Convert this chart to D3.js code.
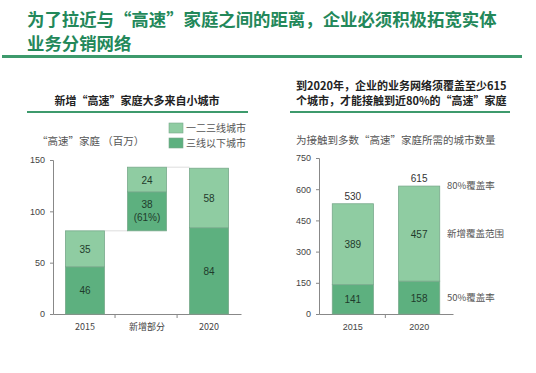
<!DOCTYPE html>
<html>
<head>
<meta charset="utf-8">
<script src="https://cdn.jsdelivr.net/npm/d3@7"></script>
<style>
  body { margin: 0; background: #fff; }
  svg { font-family: "Noto Sans CJK SC", "Noto Sans", sans-serif; }
</style>
</head>
<body>
<svg id="chart" width="536" height="373"></svg>
<script>
// data - left chart (households, millions)
var leftCats = ["2015", "新增部分", "2020"];
var leftLow = [46, 38, 84];      // 三线以下城市
var leftHigh = [35, 24, 58];     // 一二三线城市
var leftBase = [0, 81, 0];       // floating base for the increment bar
var leftTicks = [0, 50, 100, 150];

// data - right chart (number of cities)
var rightCats = ["2015", "2020"];
var rightLow = [141, 158];       // 50%覆盖率
var rightHigh = [389, 457];      // 新增覆盖范围
var rightTotal = [530, 615];
var rightTicks = [0, 150, 300, 450, 600, 750];

var light = "#8fcca2", dark = "#5db07f", edge = "#78a98b";
var green = "#23885a", lineGreen = "#3d9a6c";
var numFont = "Liberation Sans, Arial, sans-serif";

var svg = d3.select("#chart");

// title
svg.append("text").attr("x", 27).attr("y", 26)
  .attr("font-size", 17.4).attr("font-weight", "bold").attr("fill", green)
  .text("为了拉近与“高速”家庭之间的距离，企业必须积极拓宽实体");
svg.append("text").attr("x", 27).attr("y", 50)
  .attr("font-size", 17.4).attr("font-weight", "bold").attr("fill", green)
  .text("业务分销网络");
svg.append("rect").attr("x", 2).attr("y", 55).attr("width", 520).attr("height", 3).attr("fill", lineGreen);

// ---------- left panel ----------
svg.append("text").attr("x", 137).attr("y", 105).attr("text-anchor", "middle")
  .attr("font-size", 11).attr("font-weight", "bold").attr("fill", "#222")
  .text("新增“高速”家庭大多来自小城市");
svg.append("rect").attr("x", 27).attr("y", 111).attr("width", 221).attr("height", 2).attr("fill", lineGreen);

svg.append("text").attr("x", 37).attr("y", 145).attr("font-size", 10.5).attr("fill", "#555")
  .text("“高速”家庭 （百万）");

// legend
var legend = [["一二三线城市", light], ["三线以下城市", dark]];
legend.forEach(function(d, i){
  svg.append("rect").attr("x", 169).attr("y", 123 + i*15).attr("width", 14).attr("height", 10)
    .attr("fill", d[1]).attr("stroke", edge).attr("stroke-width", 0.6);
  svg.append("text").attr("x", 186).attr("y", 132 + i*15).attr("font-size", 10).attr("fill", "#555").text(d[0]);
});

var lx = d3.scaleBand().domain(leftCats).range([53, 241]).paddingInner(0.37).paddingOuter(0.2);
var ly = d3.scaleLinear().domain([0, 150]).range([314, 160]);

var lAxisY = svg.append("g").attr("transform", "translate(53,0)")
  .call(d3.axisLeft(ly).tickValues(leftTicks).tickSize(3).tickPadding(5));
var lAxisX = svg.append("g").attr("transform", "translate(0,314)")
  .call(d3.axisBottom(lx).tickSize(0).tickPadding(10));
// tick marks between bands
var lSep = [lx.step(), lx.step()*2].map(function(s){ return 53 + s; });
lSep.forEach(function(x){
  svg.append("line").attr("x1", x).attr("x2", x).attr("y1", 314).attr("y2", 318).attr("stroke", "#888");
});
[lAxisY, lAxisX].forEach(function(a){
  a.selectAll("path,line").attr("stroke", "#888");
  a.selectAll("text").attr("fill", "#444").attr("font-size", 9).attr("font-family", numFont);
});
lAxisX.selectAll("text").attr("font-family", "Noto Sans CJK SC, sans-serif");

// connectors
var t0 = leftLow[0] + leftHigh[0];
var t1 = leftBase[1] + leftLow[1] + leftHigh[1];
svg.append("line").attr("x1", lx(leftCats[0]) + lx.bandwidth()).attr("x2", lx(leftCats[1]))
  .attr("y1", ly(t0)).attr("y2", ly(t0)).attr("stroke", "#ddd");
svg.append("line").attr("x1", lx(leftCats[1]) + lx.bandwidth()).attr("x2", lx(leftCats[2]))
  .attr("y1", ly(t1)).attr("y2", ly(t1)).attr("stroke", "#ddd");

leftCats.forEach(function(c, i){
  var b = leftBase[i], lo = leftLow[i], hi = leftHigh[i];
  var x = lx(c), w = lx.bandwidth();
  svg.append("rect").attr("x", x).attr("y", ly(b + lo)).attr("width", w)
    .attr("height", ly(b) - ly(b + lo)).attr("fill", dark).attr("stroke", edge).attr("stroke-width", 0.8);
  svg.append("rect").attr("x", x).attr("y", ly(b + lo + hi)).attr("width", w)
    .attr("height", ly(b + lo) - ly(b + lo + hi)).attr("fill", light).attr("stroke", edge).attr("stroke-width", 0.8);
  var cy = ly(b + lo/2);
  if (c === "新增部分") {
    svg.append("text").attr("x", x + w/2).attr("y", cy - 3).attr("text-anchor", "middle")
      .attr("font-size", 10).attr("font-family", numFont).attr("fill", "#1f3b2c").text(lo);
    svg.append("text").attr("x", x + w/2).attr("y", cy + 10).attr("text-anchor", "middle")
      .attr("font-size", 10).attr("font-family", numFont).attr("fill", "#1f3b2c").text("(61%)");
  } else {
    svg.append("text").attr("x", x + w/2).attr("y", cy + 4).attr("text-anchor", "middle")
      .attr("font-size", 10).attr("font-family", numFont).attr("fill", "#1f3b2c").text(lo);
  }
  svg.append("text").attr("x", x + w/2).attr("y", ly(b + lo + hi/2) + 4).attr("text-anchor", "middle")
    .attr("font-size", 10).attr("font-family", numFont).attr("fill", "#1f3b2c").text(hi);
});

// ---------- right panel ----------
svg.append("text").attr("x", 296).attr("y", 90).attr("font-size", 11).attr("font-weight", "bold").attr("fill", "#222")
  .text("到2020年，企业的业务网络须覆盖至少615");
svg.append("text").attr("x", 296).attr("y", 105).attr("font-size", 11).attr("font-weight", "bold").attr("fill", "#222")
  .text("个城市，才能接触到近80%的“高速”家庭");
svg.append("rect").attr("x", 290).attr("y", 111).attr("width", 220).attr("height", 2).attr("fill", lineGreen);
svg.append("text").attr("x", 296).attr("y", 144).attr("font-size", 10.5).attr("fill", "#555")
  .text("为接触到多数“高速”家庭所需的城市数量");

var rx = d3.scaleBand().domain(rightCats).range([319, 453]).paddingInner(0.38).paddingOuter(0.2);
var ry = d3.scaleLinear().domain([0, 750]).range([314, 158]);

var rAxisY = svg.append("g").attr("transform", "translate(319,0)")
  .call(d3.axisLeft(ry).tickValues(rightTicks).tickSize(3).tickPadding(5));
var rAxisX = svg.append("g").attr("transform", "translate(0,314)")
  .call(d3.axisBottom(rx).tickSize(0).tickPadding(10));
svg.append("line").attr("x1", 319 + rx.step()).attr("x2", 319 + rx.step())
  .attr("y1", 314).attr("y2", 318).attr("stroke", "#888");
[rAxisY, rAxisX].forEach(function(a){
  a.selectAll("path,line").attr("stroke", "#888");
  a.selectAll("text").attr("fill", "#444").attr("font-size", 9).attr("font-family", numFont);
});

rightCats.forEach(function(c, i){
  var lo = rightLow[i], hi = rightHigh[i];
  var x = rx(c), w = rx.bandwidth();
  svg.append("rect").attr("x", x).attr("y", ry(lo)).attr("width", w)
    .attr("height", ry(0) - ry(lo)).attr("fill", dark).attr("stroke", edge).attr("stroke-width", 0.8);
  svg.append("rect").attr("x", x).attr("y", ry(lo + hi)).attr("width", w)
    .attr("height", ry(lo) - ry(lo + hi)).attr("fill", light).attr("stroke", edge).attr("stroke-width", 0.8);
  svg.append("text").attr("x", x + w/2).attr("y", ry(lo/2) + 4).attr("text-anchor", "middle")
    .attr("font-size", 10).attr("fill", "#1f3b2c").attr("font-family", numFont).text(lo);
  svg.append("text").attr("x", x + w/2).attr("y", ry(lo + hi/2) + 4).attr("text-anchor", "middle")
    .attr("font-size", 10).attr("fill", "#1f3b2c").attr("font-family", numFont).text(hi);
  svg.append("text").attr("x", x + w/2).attr("y", ry(rightTotal[i]) - 4).attr("text-anchor", "middle")
    .attr("font-size", 10).attr("fill", "#333").attr("font-family", numFont).text(rightTotal[i]);
});

// side annotations
var notes = [["80%覆盖率", 189], ["新增覆盖范围", 237], ["50%覆盖率", 301]];
notes.forEach(function(n){
  svg.append("text").attr("x", 447).attr("y", n[1]).attr("font-size", 9.5).attr("fill", "#555").text(n[0]);
});
</script>
</body>
</html>
